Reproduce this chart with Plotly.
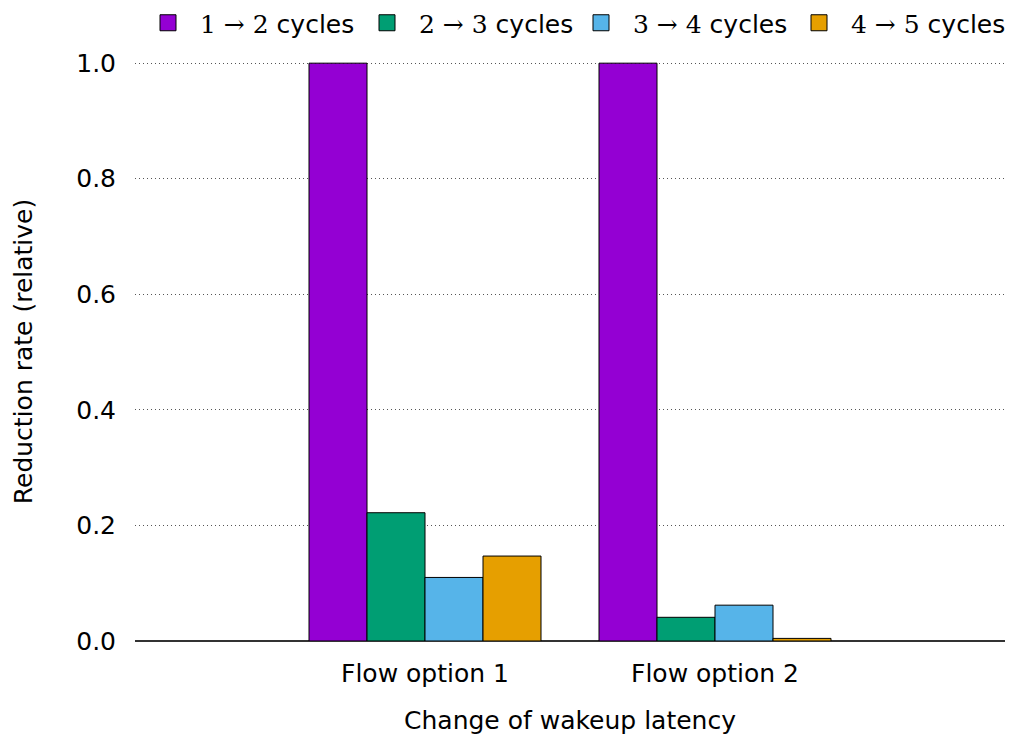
import plotly.graph_objects as go

# Categories on a numeric axis so empty slots remain on either side
category_pos = [1, 2]
category_labels = ["Flow option 1", "Flow option 2"]

series_names = ["1 → 2", "2 → 3", "3 → 4", "4 → 5"]
series_values = [
    [1.0, 1.0],
    [0.222, 0.041],
    [0.110, 0.062],
    [0.147, 0.0045],
]
series_colors = ["#9400D3", "#009E73", "#56B4E9", "#E69F00"]

y_ticks = [0.0, 0.2, 0.4, 0.6, 0.8, 1.0]

SANS = "DejaVu Sans, sans-serif"
SERIF = "DejaVu Serif, serif"
FS = 25
W, H = 1011, 740

# horizontal centre (px) of each legend swatch along the top row
legend_swatch_x = [168, 387, 601, 819]

fig = go.Figure()
for i, (name, vals, col) in enumerate(zip(series_names, series_values, series_colors)):
    lg = "legend" if i == 0 else f"legend{i + 1}"
    fig.add_trace(go.Bar(
        x=category_pos,
        y=vals,
        name=name,
        legendgroup=name,
        showlegend=False,
        marker=dict(color=col, line=dict(color="black", width=1)),
    ))
    # legend entry with a larger square swatch
    fig.add_trace(go.Scatter(
        x=[None],
        y=[None],
        mode="markers",
        name=f"<span style='font-family:{SERIF}'>{name}</span> cycles",
        legendgroup=name,
        legend=lg,
        marker=dict(symbol="square", size=16, color=col,
                    line=dict(color="black", width=1)),
    ))
    fig.update_layout({lg: dict(
        orientation="h",
        x=(legend_swatch_x[i] - 32) / W, xanchor="left",
        y=1.0, yanchor="top",
        xref="container",
        yref="container",
        font=dict(size=FS),
        itemwidth=54,
        borderwidth=0,
        bgcolor="rgba(0,0,0,0)",
    )})

fig.update_layout(
    width=W,
    height=H,
    margin=dict(l=135, r=6, t=62, b=99, autoexpand=False),
    plot_bgcolor="white",
    paper_bgcolor="white",
    barmode="group",
    bargap=0.2,
    bargroupgap=0,
    font=dict(family=SANS, size=FS, color="black"),
    showlegend=True,
    xaxis=dict(
        range=[0, 3],
        tickvals=category_pos,
        ticktext=category_labels,
        tickfont=dict(size=FS),
        showgrid=False,
        zeroline=False,
        showline=False,
        ticks="",
        ticklabelstandoff=15,
        title=dict(text="Change of wakeup latency", font=dict(size=FS), standoff=24),
    ),
    yaxis=dict(
        range=[0, 1.002],
        tickvals=y_ticks,
        tickformat=".1f",
        tickfont=dict(size=FS),
        showgrid=True,
        gridcolor="#555555",
        griddash="1px,3px",
        gridwidth=1,
        zeroline=True,
        zerolinecolor="#333333",
        zerolinewidth=1.5,
        showline=False,
        ticks="",
        ticklabelstandoff=18,
        title=dict(text="Reduction rate (relative)", font=dict(size=FS), standoff=36),
    ),
)

fig.write_html("out.html")
